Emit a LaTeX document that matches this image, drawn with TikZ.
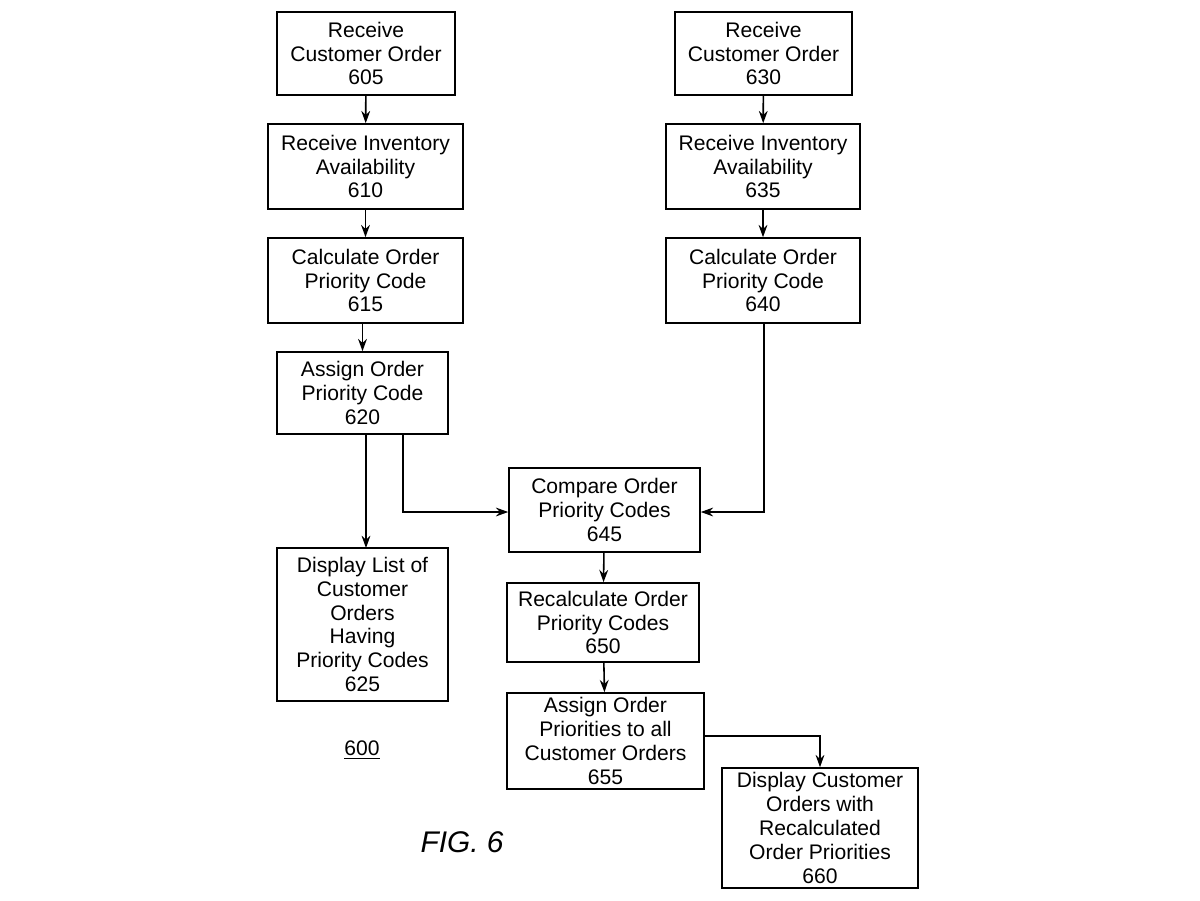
\documentclass[tikz,border=0pt]{standalone}
\usepackage{fontspec}
\setmainfont{Liberation Sans}
\usetikzlibrary{arrows.meta}
\begin{document}
\begin{tikzpicture}[x=0.02cm,y=-0.02cm,
 box/.style={draw,line width=0.9pt,align=center,inner sep=0pt,font=\fontsize{12}{13.6}\selectfont},
 arr/.style={-{Stealth[length=7pt,width=5pt]},line width=0.9pt}]
\useasboundingbox (0,0) rectangle (1200,900);
\newcommand{\bx}[6]{\node[box,minimum width=#3*0.02cm,minimum height=#4*0.02cm] (#5) at (#1,#2) {#6};}
\bx{366}{53.5}{178}{83}{a}{Receive\\Customer Order\\605}
\bx{365.5}{166.5}{195}{85}{b}{Receive Inventory\\Availability\\610}
\bx{365.5}{280.5}{195}{85}{c}{Calculate Order\\Priority Code\\615}
\bx{362.5}{393}{171}{82}{d}{Assign Order\\Priority Code\\620}
\bx{362.5}{624.5}{171}{153}{e}{Display List of\\Customer\\Orders\\Having\\Priority Codes\\625}
\bx{763.5}{53.5}{177}{83}{f}{Receive\\Customer Order\\630}
\bx{763}{166.5}{194}{85}{g}{Receive Inventory\\Availability\\635}
\bx{763}{280.5}{194}{85}{h}{Calculate Order\\Priority Code\\640}
\bx{604.5}{510}{191}{84}{i}{Compare Order\\Priority Codes\\645}
\bx{603}{622.5}{192}{79}{j}{Recalculate Order\\Priority Codes\\650}
\bx{605.5}{741}{197}{96}{k}{Assign Order\\Priorities to all\\Customer Orders\\655}
\bx{820}{828}{196}{120}{l}{Display Customer\\Orders with\\Recalculated\\Order Priorities\\660}
\draw[arr] (a) -- (b);
\draw[arr] (b) -- (c);
\draw[arr] (c.south -| d.north) -- (d);
\draw[arr] (f) -- (g);
\draw[arr] (g) -- (h);
\draw[arr] (i) -- (j);
\draw[arr] (j) -- (k);
\draw[arr] (366,434) -- (366,548);
\coordinate (p) at (403,512);
\draw[arr] (403,434) -- (p) -- (i.west |- p);
\coordinate (q) at (764,512);
\draw[arr] (764,323) -- (q) -- (i.east |- q);
\coordinate (r) at (820,736);
\draw[arr] (k.east |- r) -- (r) -- (l.north);
\node[font=\fontsize{12}{14}\selectfont] (n600) at (362,750) {\underline{600}};
\node[font=\fontsize{17}{20}\selectfont\itshape] (fig) at (462,842) {FIG. 6};
\end{tikzpicture}
\end{document}
